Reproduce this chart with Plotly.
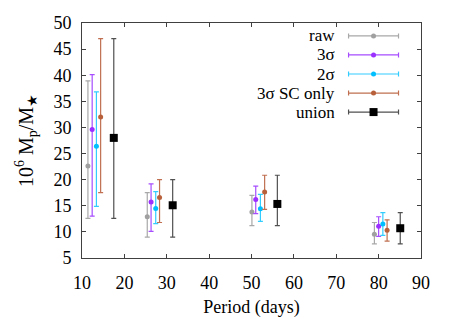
import plotly.graph_objects as go

series_names = ["raw", "3σ", "2σ", "3σ SC only", "union"]
colors = ["#a0a0a0", "#9b30ff", "#00bfff", "#b8603a", "#000000"]
bar_colors = ["#a8a8a8", "#a64dff", "#33ccff", "#c07050", "#505050"]

periods = {
    "raw":        [11.4, 25.4, 50.1, 79.0],
    "3σ":         [12.4, 26.3, 51.0, 80.0],
    "2σ":         [13.4, 27.4, 52.1, 81.0],
    "3σ SC only": [14.4, 28.3, 53.1, 82.0],
    "union":      [17.5, 31.4, 56.1, 85.1],
}
values = {
    "raw":        [22.6, 12.9, 13.8, 9.55],
    "3σ":         [29.6, 15.7, 16.2, 11.1],
    "2σ":         [26.4, 14.5, 14.45, 11.5],
    "3σ SC only": [32.0, 16.6, 17.65, 10.3],
    "union":      [28.0, 15.1, 15.35, 10.7],
}
upper = {
    "raw":        [38.9, 17.5, 17.0, 11.8],
    "3σ":         [40.1, 19.2, 18.75, 12.9],
    "2σ":         [36.8, 17.7, 17.2, 13.7],
    "3σ SC only": [47.0, 20.0, 20.85, 12.3],
    "union":      [47.0, 20.0, 20.85, 13.7],
}
lower = {
    "raw":        [12.6, 9.0, 11.2, 7.7],
    "3σ":         [13.0, 10.1, 13.5, 9.15],
    "2σ":         [14.9, 11.6, 12.0, 9.35],
    "3σ SC only": [17.5, 11.8, 14.3, 8.25],
    "union":      [12.6, 9.0, 11.2, 7.7],
}

x_ticks = [10, 20, 30, 40, 50, 60, 70, 80, 90]
y_ticks = [5, 10, 15, 20, 25, 30, 35, 40, 45, 50]

font = "Liberation Serif, Times New Roman, DejaVu Serif, serif"
fig = go.Figure()

for name, col, bcol in zip(series_names, colors, bar_colors):
    v = values[name]
    fig.add_trace(go.Scatter(
        x=periods[name], y=v, mode="markers",
        marker=dict(color=col, size=8 if name == "union" else 5,
                    symbol="square" if name == "union" else "circle"),
        error_y=dict(type="data", symmetric=False,
                     array=[u - c for u, c in zip(upper[name], v)],
                     arrayminus=[c - l for c, l in zip(v, lower[name])],
                     color=bcol, thickness=1.2, width=2.5),
        showlegend=False, xaxis="x", yaxis="y",
    ))

# manual legend (gnuplot style: label then sample on the right)
leg_rows = [0.945, 0.864, 0.783, 0.702, 0.621]
for name, col, bcol, yy in zip(series_names, colors, bar_colors, leg_rows):
    fig.add_trace(go.Scatter(
        x=[0.86], y=[yy], mode="markers", xaxis="x2", yaxis="y2",
        marker=dict(color=col, size=8 if name == "union" else 5,
                    symbol="square" if name == "union" else "circle"),
        error_x=dict(type="constant", value=0.0737, color=bcol, thickness=1.2, width=2.5),
        showlegend=False, hoverinfo="skip",
    ))
    fig.add_annotation(x=0.753, y=yy, xref="x2", yref="y2", text=name, showarrow=False,
                       xanchor="right", yanchor="middle",
                       font=dict(family=font, size=17, color="black"))

axis_common = dict(showgrid=False, zeroline=False, ticks="inside", ticklen=4,
                   tickcolor="#404040", linecolor="#404040", linewidth=1,
                   mirror="ticks", showline=True,
                   tickfont=dict(family=font, size=18, color="black"))

# page body has an 8px margin, so the figure is shrunk and shifted to compensate
fig.update_layout(
    width=447, height=311,
    margin=dict(l=74, r=34, t=15, b=61, autoexpand=False),
    plot_bgcolor="white", paper_bgcolor="white",
    xaxis=dict(range=[10, 90], tickvals=x_ticks, ticklabelstandoff=8, **axis_common,
               title=dict(text="Period (days)", font=dict(family=font, size=18, color="black"),
                          standoff=8)),
    yaxis=dict(range=[5, 50], tickvals=y_ticks, ticklabelstandoff=6, **axis_common,
               title=dict(text="10<sup>6</sup> M<sub>p</sub>/M<sub>★</sub>",
                          font=dict(family=font, size=20, color="black"), standoff=14)),
    xaxis2=dict(overlaying="x", range=[0, 1], visible=False, fixedrange=True),
    yaxis2=dict(overlaying="y", range=[0, 1], visible=False, fixedrange=True),
)

fig.write_html("out.html")
